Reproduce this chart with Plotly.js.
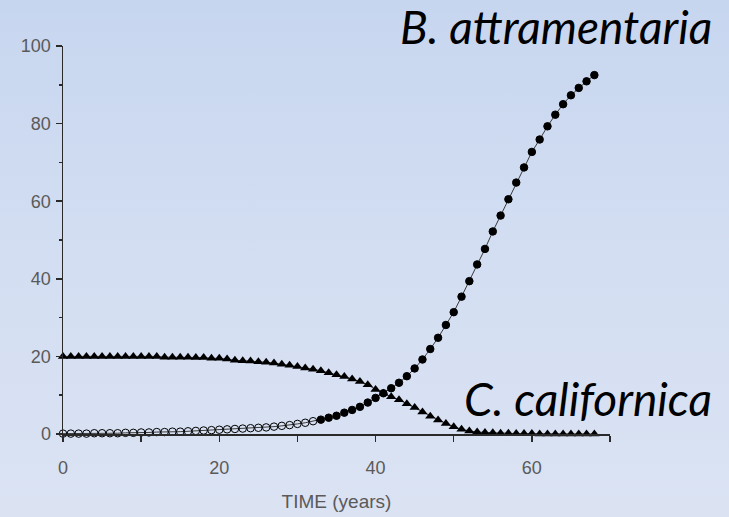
<!DOCTYPE html>
<html>
<head>
<meta charset="utf-8">
<script src="https://cdn.plot.ly/plotly-3.0.1.min.js"></script>
<style>
html,body{margin:0;padding:0;}
body{width:729px;height:517px;background:linear-gradient(to bottom,#c7d6ef 0%,#d3def2 50%,#dbe3f3 100%);overflow:hidden;}
#chart{width:729px;height:517px;}
</style>
</head>
<body>
<div id="chart"></div>
<script>
// Time in years
const years = [];
for (let i = 0; i <= 68; i++) years.push(i);

// B. attramentaria (circles)
const attramentaria = [
  0.1,0.1,0.1,0.1,0.2,0.2,0.2,0.2,0.3,0.3,
  0.4,0.4,0.5,0.5,0.6,0.6,0.7,0.8,0.9,1.0,
  1.1,1.2,1.3,1.4,1.5,1.6,1.7,1.9,2.1,2.3,
  2.6,2.9,3.3,3.7,4.2,4.7,5.5,6.2,7.0,8.1,
  9.3,10.5,11.8,13.2,14.9,16.9,19.2,21.9,24.8,28.1,
  31.4,35.4,39.4,43.7,47.7,52.2,56.3,60.5,64.8,68.7,
  72.7,75.9,79.3,82.3,85.0,87.3,89.2,90.9,92.5
];

// C. californica (triangles)
const californica = [
  20.0,20.0,20.0,20.0,20.0,20.0,20.0,20.0,20.0,20.0,
  20.0,20.0,20.0,19.8,19.8,19.8,19.8,19.7,19.7,19.5,
  19.5,19.3,19.0,18.9,18.8,18.6,18.5,18.3,18.0,17.7,
  17.4,17.0,16.7,16.3,15.8,15.3,14.8,14.2,13.5,12.7,
  11.5,10.5,9.6,8.8,7.8,6.8,5.7,4.6,3.6,2.7,
  1.9,1.2,0.8,0.5,0.4,0.3,0.2,0.2,0.1,0.1,
  0.1,0.0,0.0,0.0,0.0,0.0,0.0,0.0,0.0
];

// open markers for the early part of the B. attramentaria series
const openUntil = 32;
const circleSymbols = years.map(y => y <= openUntil ? 'circle-open' : 'circle');

const xTickVals = [0, 20, 40, 60];
const yTickVals = [0, 20, 40, 60, 80, 100];

const tickFont = {family: '"Liberation Sans", Arial, sans-serif', size: 18, color: '#5a5a5a'};
const titleFont = {family: '"Liberation Sans", Arial, sans-serif', size: 19, color: '#5a5a5a'};
const labelFont = {family: 'Lato, "Open Sans", sans-serif', size: 46, color: '#000', style: 'italic', weight: 400};

const traces = [
  {
    x: years, y: californica, type: 'scatter', mode: 'lines+markers',
    name: 'C. californica', cliponaxis: false,
    line: {color: '#3a3a3a', width: 1},
    marker: {symbol: 'triangle-up', size: 9, color: '#000'}
  },
  {
    x: years, y: attramentaria, type: 'scatter', mode: 'lines+markers',
    name: 'B. attramentaria', cliponaxis: false,
    line: {color: '#3a3a3a', width: 1},
    marker: {symbol: circleSymbols, size: 7.5, color: '#000', line: {color: '#000', width: 1}}
  }
];

const layout = {
  width: 729, height: 517, autosize: false,
  paper_bgcolor: 'rgba(0,0,0,0)', plot_bgcolor: 'rgba(0,0,0,0)',
  margin: {l: 63, r: 119, t: 46, b: 83, pad: 0},
  showlegend: false,
  xaxis: {
    range: [0, 70], showgrid: false, zeroline: false,
    showline: true, linecolor: '#2a2a2a', linewidth: 1.5,
    ticks: 'outside', ticklen: 6, tickwidth: 1.5, tickcolor: '#2a2a2a',
    tickvals: xTickVals, ticklabelstandoff: 11,
    minor: {dtick: 10, tick0: 0, ticks: 'outside', ticklen: 6, tickwidth: 1.5, tickcolor: '#2a2a2a'},
    tickfont: tickFont,
    title: {text: 'TIME (years)', font: titleFont, standoff: 17}
  },
  yaxis: {
    range: [0, 100], showgrid: false, zeroline: false,
    showline: true, linecolor: '#2a2a2a', linewidth: 1.5,
    ticks: 'outside', ticklen: 6, tickwidth: 1.5, tickcolor: '#2a2a2a',
    tickvals: yTickVals, ticklabelstandoff: 1,
    minor: {dtick: 10, tick0: 0, ticks: 'outside', ticklen: 3, tickwidth: 1.5, tickcolor: '#2a2a2a'},
    tickfont: tickFont
  },
  annotations: [
    {text: 'B. attramentaria', xref: 'paper', yref: 'paper', x: 1.19, y: 1.05,
     xanchor: 'right', yanchor: 'middle', showarrow: false, font: labelFont},
    {text: 'C. californica', xref: 'paper', yref: 'paper', x: 1.19, y: 0.092,
     xanchor: 'right', yanchor: 'middle', showarrow: false, font: labelFont}
  ]
};

Plotly.newPlot('chart', traces, layout, {displayModeBar: false, staticPlot: true});
</script>
</body>
</html>
